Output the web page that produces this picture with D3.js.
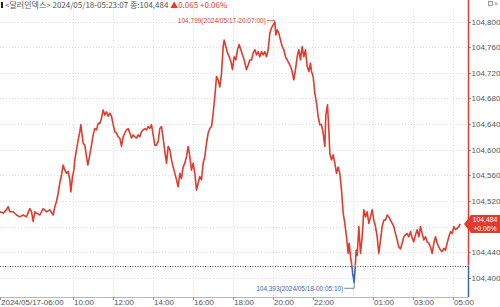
<!DOCTYPE html>
<html>
<head>
<meta charset="utf-8">
<script src="https://cdn.jsdelivr.net/npm/d3@7"></script>
<style>
  html, body { margin: 0; padding: 0; background: #fff; }
  svg { display: block; font-family: "Liberation Sans Narrow", "Liberation Sans", sans-serif; }
</style>
</head>
<body>
<svg id="chart" width="500" height="307"></svg>
<script>
/* ───── data: 달러인덱스, 1-day intraday (05/17 → 05/18) ───── */
// clock times; the day rolls over when the hour goes back (after 23:57)
const times = [
  '06:22','06:32','06:42','06:47','06:52','07:02','07:12','07:22','07:32','07:42',
  '07:52','07:57','08:02','08:07','08:12','08:22','08:32','08:42','08:52','09:02',
  '09:07','09:12','09:17','09:22','09:27','09:32','09:37','09:42','09:47','09:52',
  '09:55','10:00','10:04','10:07','10:12','10:17','10:22','10:25','10:30','10:32',
  '10:37','10:42','10:46','10:52','10:57','11:02','11:07','11:12','11:17','11:22',
  '11:27','11:32','11:37','11:42','11:47','11:52','11:57','12:02','12:07','12:12',
  '12:17','12:22','12:27','12:32','12:37','12:42','12:47','12:52','12:57','13:02',
  '13:07','13:12','13:17','13:22','13:27','13:32','13:37','13:42','13:47','13:52',
  '13:57','14:02','14:07','14:12','14:17','14:22','14:27','14:32','14:37','14:42',
  '14:47','14:52','14:57','15:02','15:07','15:12','15:17','15:22','15:27','15:32',
  '15:37','15:42','15:47','15:52','15:57','16:02','16:07','16:12','16:17','16:22',
  '16:27','16:32','16:37','16:42','16:47','16:52','16:57','17:02','17:07','17:12',
  '17:17','17:22','17:27','17:32','17:35','17:40','17:45','17:50','17:55','18:00',
  '18:05','18:10','18:15','18:20','18:25','18:30','18:35','18:42','18:47','18:52',
  '18:57','19:02','19:07','19:12','19:17','19:22','19:27','19:32','19:37','19:42',
  '19:47','19:52','19:57','20:07','20:10','20:14','20:19','20:24','20:29','20:34',
  '20:39','20:44','20:49','20:54','20:59','21:04','21:09','21:14','21:19','21:24',
  '21:29','21:34','21:39','21:44','21:49','21:54','21:57','22:02','22:07','22:12',
  '22:17','22:22','22:27','22:32','22:37','22:40','22:45','22:49','22:52','22:57',
  '23:02','23:07','23:12','23:17','23:22','23:27','23:32','23:37','23:42','23:47',
  '23:50','23:54','23:57',
  '00:01','00:05','00:08','00:11','00:14','00:19','00:24','00:29','00:34','00:39',
  '00:44','00:49','00:54','00:59','01:04','01:09','01:14','01:19','01:24','01:29',
  '01:34','01:39','01:44','01:49','01:54','01:59','02:04','02:09','02:14','02:19',
  '02:24','02:29','02:34','02:39','02:44','02:49','02:54','02:59','03:04','03:09',
  '03:14','03:19','03:24','03:29','03:34','03:39','03:44','03:49','03:54','03:59',
  '04:04','04:09','04:14','04:19','04:24','04:29','04:34','04:39','04:44','04:49',
  '04:54','04:59','05:04','05:09','05:14','05:19','05:23'
];

const prices = [
  104.503,104.501,104.506,104.511,104.503,104.503,104.498,104.495,104.498,104.495,
  104.508,104.503,104.488,104.503,104.501,104.498,104.508,104.503,104.506,104.498,
  104.511,104.519,104.532,104.548,104.560,104.576,104.568,104.563,104.566,104.553,
  104.534,104.558,104.568,104.584,104.600,104.615,104.628,104.639,104.618,104.610,
  104.607,104.589,104.576,104.592,104.607,104.623,104.633,104.631,104.641,104.641,
  104.649,104.662,104.654,104.659,104.652,104.657,104.652,104.639,104.628,104.626,
  104.620,104.618,104.605,104.620,104.626,104.631,104.633,104.626,104.618,104.623,
  104.620,104.618,104.623,104.620,104.628,104.631,104.633,104.631,104.636,104.633,
  104.639,104.623,104.607,104.607,104.613,104.633,104.636,104.618,104.597,104.579,
  104.605,104.600,104.584,104.573,104.563,104.553,104.542,104.563,104.555,104.573,
  104.579,104.589,104.605,104.589,104.568,104.579,104.563,104.537,104.548,104.558,
  104.553,104.579,104.589,104.610,104.626,104.633,104.636,104.657,104.683,104.714,
  104.709,104.698,104.719,104.761,104.771,104.761,104.751,104.745,104.738,104.725,
  104.745,104.740,104.756,104.764,104.756,104.748,104.740,104.725,104.732,104.740,
  104.740,104.751,104.756,104.748,104.753,104.745,104.753,104.748,104.753,104.745,
  104.756,104.782,104.790,104.799,104.779,104.787,104.782,104.771,104.761,104.756,
  104.745,104.740,104.735,104.730,104.722,104.709,104.725,104.745,104.756,104.740,
  104.761,104.745,104.756,104.730,104.722,104.735,104.722,104.714,104.688,104.673,
  104.652,104.639,104.639,104.626,104.605,104.654,104.670,104.631,104.594,104.584,
  104.592,104.579,104.563,104.573,104.563,104.537,104.501,104.485,104.464,104.438,
  104.454,104.433,104.423,
  104.405,104.393,104.415,104.443,104.435,104.480,104.438,104.464,104.506,104.495,
  104.503,104.485,104.495,104.506,104.490,104.480,104.464,104.438,104.459,104.480,
  104.490,104.490,104.498,104.495,104.490,104.485,104.480,104.469,104.459,104.448,
  104.445,104.454,104.464,104.467,104.469,104.464,104.472,104.462,104.456,104.467,
  104.475,104.464,104.480,104.469,104.459,104.464,104.456,104.454,104.448,104.438,
  104.454,104.464,104.454,104.448,104.443,104.441,104.446,104.443,104.454,104.464,
  104.472,104.469,104.480,104.475,104.477,104.480,104.484
];

const prevClose = 104.419;
const lastStamp = '2024/05/18-05:23:07';
const lastPrice = 104.484, lastChange = 0.065, lastPct = 0.06;

const hiPoint = { stamp: '2024-05-17 20:07:00', price: 104.799, label: '2024/05/17-20:07:00' };
const loPoint = { stamp: '2024-05-18 00:05:10', price: 104.393, label: '2024/05/18-00:05:10' };

const yTicks = [104.40, 104.44, 104.48, 104.52, 104.56, 104.60, 104.64, 104.68, 104.72, 104.76, 104.80];
const xTickStamps = ['2024-05-17 06:00','2024-05-17 10:00','2024-05-17 12:00','2024-05-17 14:00',
  '2024-05-17 16:00','2024-05-17 18:00','2024-05-17 20:00','2024-05-17 22:00',
  '2024-05-18 01:00','2024-05-18 03:00','2024-05-18 05:00'];
const xTickLabels = ['2024/05/17-06:00','10:00','12:00','14:00','16:00','18:00','20:00','22:00',
  '01:00','03:00','05:00'];
const xGridExtra = ['2024-05-18 00:00'];   // 날짜 변경선

/* ───── helpers ───── */
const parseStamp = d3.timeParse('%Y-%m-%d %H:%M:%S');
const parseMin = d3.timeParse('%Y-%m-%d %H:%M');
const fmt3 = v => d3.format('.3f')(v).replace('.', ',');

let day = 17, prevH = -1;
const data = times.map((t, i) => {
  const h = +t.slice(0, 2);
  if (h < prevH) day += 1;
  prevH = h;
  return { t: parseMin(`2024-05-${day} ${t}`), v: prices[i] };
});

/* ───── layout ───── */
const W = 500, H = 307;
const plot = { left: 0, right: 468, top: 10, bottom: 297 };
const RED = '#e23b2d', BLUE = '#3a67b1';

const x = d3.scaleTime()
  .domain([parseStamp('2024-05-17 06:22:30'), parseStamp('2024-05-18 05:46:30')])
  .range([plot.left, plot.right]);
const y = d3.scaleLinear()
  .domain([104.37, 104.818])
  .range([plot.bottom, plot.top]);

const svg = d3.select('#chart');
const yPrev = y(prevClose);
const yLast = y(lastPrice);

/* grid */
const grid = svg.append('g').attr('stroke', '#dcdcdc').attr('stroke-dasharray', '1,2');
grid.selectAll('line.h').data(yTicks).join('line')
  .attr('x1', plot.left).attr('x2', plot.right)
  .attr('y1', d => Math.round(y(d)) + 0.5).attr('y2', d => Math.round(y(d)) + 0.5);
grid.selectAll('line.v').data(xTickStamps.slice(1).concat(xGridExtra)).join('line')
  .attr('x1', d => Math.round(x(parseMin(d))) + 0.5).attr('x2', d => Math.round(x(parseMin(d))) + 0.5)
  .attr('y1', plot.top).attr('y2', plot.bottom);

/* x axis */
svg.append('line')
  .attr('x1', plot.left).attr('x2', plot.right)
  .attr('y1', plot.bottom + 0.5).attr('y2', plot.bottom + 0.5)
  .attr('stroke', '#b8b8b8');
const xt = svg.append('g').selectAll('g').data(xTickStamps).join('g')
  .attr('transform', d => `translate(${Math.max(0, Math.round(x(parseMin(d))))},0)`);
xt.append('line')
  .attr('x1', 0.5).attr('x2', 0.5)
  .attr('y1', plot.bottom).attr('y2', plot.bottom + 3)
  .attr('stroke', '#999');
xt.append('text')
  .attr('x', 1).attr('y', 305)
  .attr('font-size', 8).attr('fill', '#555')
  .text((d, i) => xTickLabels[i]);

/* prev close line */
svg.append('line')
  .attr('x1', plot.left).attr('x2', plot.right)
  .attr('y1', Math.round(yPrev) + 0.5).attr('y2', Math.round(yPrev) + 0.5)
  .attr('stroke', '#555').attr('stroke-dasharray', '1,1.5');

/* price line: red above prev close, blue below */
svg.append('clipPath').attr('id', 'upClip').append('rect')
  .attr('x', 0).attr('y', 0).attr('width', W).attr('height', yPrev);
svg.append('clipPath').attr('id', 'dnClip').append('rect')
  .attr('x', 0).attr('y', yPrev).attr('width', W).attr('height', H - yPrev);

const line = d3.line().x(d => x(d.t)).y(d => y(d.v));
svg.append('path').datum(data)
  .attr('d', line).attr('fill', 'none')
  .attr('stroke', RED).attr('stroke-width', 1.6).attr('stroke-linejoin', 'round')
  .attr('clip-path', 'url(#upClip)');
svg.append('path').datum(data)
  .attr('d', line).attr('fill', 'none')
  .attr('stroke', BLUE).attr('stroke-width', 1.6).attr('stroke-linejoin', 'round')
  .attr('clip-path', 'url(#dnClip)');

/* right axis */
svg.append('line')
  .attr('x1', plot.right + 0.5).attr('x2', plot.right + 0.5)
  .attr('y1', 0).attr('y2', yPrev)
  .attr('stroke', RED).attr('stroke-width', 1.5);
svg.append('line')
  .attr('x1', plot.right + 0.5).attr('x2', plot.right + 0.5)
  .attr('y1', yPrev).attr('y2', plot.bottom)
  .attr('stroke', BLUE).attr('stroke-width', 1.5);
// the label under the current-value badge is hidden in the original
const yt = svg.append('g').selectAll('g').data(yTicks.filter(d => Math.abs(y(d) - yLast) > 10)).join('g')
  .attr('transform', d => `translate(0,${Math.round(y(d)) + 0.5})`);
yt.append('line')
  .attr('x1', plot.right + 1).attr('x2', plot.right + 3)
  .attr('stroke', '#888');
yt.append('text')
  .attr('x', plot.right + 3.5).attr('dy', '0.35em')
  .attr('font-size', 8).attr('fill', '#555')
  .text(d => fmt3(d));

/* current value badge */
const badge = svg.append('g').attr('transform', `translate(0,${yLast})`);
badge.append('path')
  .attr('d', `M${plot.right - 4},0 L${plot.right + 3},-9 L${W},-9 L${W},9 L${plot.right + 3},9 Z`)
  .attr('fill', RED);
badge.append('text')
  .attr('x', 485).attr('y', -1.8).attr('text-anchor', 'middle')
  .attr('font-size', 6.8).attr('fill', '#fff')
  .text(fmt3(lastPrice));
badge.append('text')
  .attr('x', 485).attr('y', 7.2).attr('text-anchor', 'middle')
  .attr('font-size', 6.8).attr('fill', '#fff')
  .text(`+${d3.format('.2f')(lastPct)}%`);

/* high / low annotations */
const hx = x(parseStamp(hiPoint.stamp)), hy = y(hiPoint.price);
svg.append('path')
  .attr('d', `M${hx - 8},${hy - 1.5} H${hx} V${hy}`)
  .attr('fill', 'none').attr('stroke', RED).attr('stroke-width', 0.8);
svg.append('text')
  .attr('x', hx - 9).attr('y', hy - 1.5).attr('dy', '0.35em')
  .attr('text-anchor', 'end').attr('font-size', 8).attr('fill', RED)
  .attr('textLength', 88).attr('lengthAdjust', 'spacingAndGlyphs')
  .text(`${fmt3(hiPoint.price)}(${hiPoint.label})`);

const lx = x(parseStamp(loPoint.stamp)), ly = y(loPoint.price);
svg.append('path')
  .attr('d', `M${lx},${ly} V${ly + 6} H${lx - 10}`)
  .attr('fill', 'none').attr('stroke', BLUE).attr('stroke-width', 0.8);
svg.append('text')
  .attr('x', lx - 11).attr('y', ly + 6).attr('dy', '0.35em')
  .attr('text-anchor', 'end').attr('font-size', 8).attr('fill', BLUE)
  .attr('textLength', 87).attr('lengthAdjust', 'spacingAndGlyphs')
  .text(`${fmt3(loPoint.price)}(${loPoint.label})`);

/* header */
svg.append('rect').attr('x', 1).attr('y', 2).attr('width', 2).attr('height', 6).attr('fill', '#222');
const head = svg.append('text')
  .attr('x', 5).attr('y', 8)
  .attr('font-size', 8)
  .attr('font-family', '"Liberation Sans Narrow", "Noto Sans CJK KR", sans-serif')
  .attr('fill', '#555');
head.append('tspan').text(`<달러인덱스> ${lastStamp} 종:${fmt3(lastPrice)} `);
head.append('tspan').attr('fill', RED)
  .text(`▲${fmt3(lastChange).replace(',', '.')} +${d3.format('.2f')(lastPct)}%`);

/* window icons (top right) */
svg.append('rect').attr('x', 488.5).attr('y', 1.5).attr('width', 4).attr('height', 4)
  .attr('fill', '#eee').attr('stroke', '#888').attr('stroke-width', 0.8);
svg.append('text').attr('x', 494).attr('y', 6).attr('font-size', 7).attr('fill', '#888').text('×');
</script>
</body>
</html>
